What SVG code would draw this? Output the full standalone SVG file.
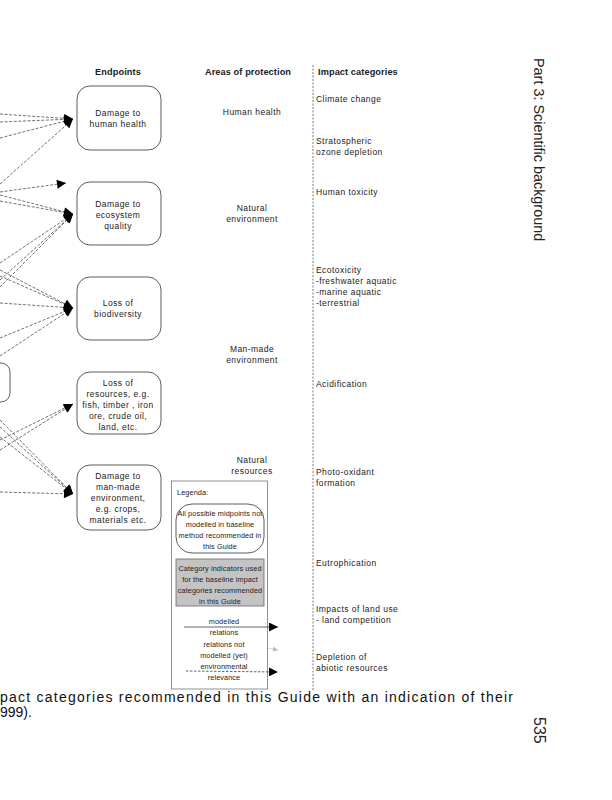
<svg xmlns="http://www.w3.org/2000/svg" width="612" height="800" viewBox="0 0 612 800">
<defs>
<marker id="ah" viewBox="0 0 10 10" refX="10" refY="5" markerWidth="10" markerHeight="9" markerUnits="userSpaceOnUse" orient="auto">
<path d="M0,0 L10,5 L0,10 z" fill="#000"/>
</marker>
<marker id="ahg" viewBox="0 0 10 10" refX="10" refY="5" markerWidth="8" markerHeight="5" markerUnits="userSpaceOnUse" orient="auto">
<path d="M0,0 L10,5 L0,10 z" fill="#bbb"/>
</marker>
</defs>
<style>
text{font-family:"Liberation Sans",Arial,sans-serif;font-size:8.5px;letter-spacing:0.45px;fill:#222}
.h{font-weight:bold;font-size:9.2px;letter-spacing:0.1px}
.c{text-anchor:middle}
.lg{font-size:7.3px;letter-spacing:0.1px}
.box{fill:#fff;stroke:#333;stroke-width:0.8}
.dl{fill:none;stroke:#333;stroke-width:0.7;stroke-dasharray:3,1.6;marker-end:url(#ah)}
.cap{font-family:"Liberation Sans",Arial,sans-serif;font-size:14px;letter-spacing:0;fill:#111}
</style>
<rect width="612" height="800" fill="#fff"/>

<g id="connectors">
<path class="dl" d="M0,114 L73,119"/>
<path class="dl" d="M0,122 L73,119"/>
<path class="dl" d="M0,138 L73,119"/>
<path class="dl" d="M0,184 L73,119"/>
<path class="dl" d="M0,192 L66,183"/>
<path class="dl" d="M0,195 L73,214"/>
<path class="dl" d="M0,201 L73,214"/>
<path class="dl" d="M0,263 L73,214"/>
<path class="dl" d="M0,280 L73,214"/>
<path class="dl" d="M0,287 L73,214"/>
<path class="dl" d="M0,270 L73,308"/>
<path class="dl" d="M0,276 L73,308"/>
<path class="dl" d="M0,303 L73,308"/>
<path class="dl" d="M0,338 L73,308"/>
<path class="dl" d="M0,356 L73,308"/>
<path class="dl" d="M0,440 L73,404"/>
<path class="dl" d="M0,450 L73,404"/>
<path class="dl" d="M0,420 L73,494"/>
<path class="dl" d="M0,427 L73,494"/>
<path class="dl" d="M0,437 L73,494"/>
<path class="dl" d="M0,492 L73,494"/>
</g>

<g id="endpoint-human-health">
<rect class="box" x="77" y="86" width="84" height="64" rx="13"/>
<text class="c" x="118" y="116">Damage to</text>
<text class="c" x="118" y="127">human health</text>
</g>
<g id="endpoint-ecosystem">
<rect class="box" x="77" y="182" width="84" height="63" rx="13"/>
<text class="c" x="118" y="207">Damage to</text>
<text class="c" x="118" y="218">ecosystem</text>
<text class="c" x="118" y="229">quality</text>
</g>
<g id="endpoint-biodiversity">
<rect class="box" x="77" y="277" width="84" height="63" rx="13"/>
<text class="c" x="118" y="306">Loss of</text>
<text class="c" x="118" y="317">biodiversity</text>
</g>
<g id="endpoint-resources">
<rect class="box" x="77" y="372" width="84" height="62" rx="13"/>
<text class="c" x="118" y="386">Loss of</text>
<text class="c" x="118" y="397">resources, e.g.</text>
<text class="c" x="118" y="408">fish,  timber , iron</text>
<text class="c" x="118" y="419">ore, crude oil,</text>
<text class="c" x="118" y="430">land, etc.</text>
</g>
<g id="endpoint-man-made">
<rect class="box" x="77" y="465" width="84" height="65" rx="13"/>
<text class="c" x="118" y="479">Damage to</text>
<text class="c" x="118" y="490">man-made</text>
<text class="c" x="118" y="501">environment,</text>
<text class="c" x="118" y="512">e.g. crops,</text>
<text class="c" x="118" y="523">materials etc.</text>
</g>
<g id="partial-node">
<rect class="box" x="-20" y="363" width="30" height="39" rx="9"/>
</g>

<g id="headers">
<text class="h c" x="118" y="75">Endpoints</text>
<text class="h c" x="248" y="75">Areas of protection</text>
<text class="h" x="318" y="75">Impact categories</text>
</g>

<g id="areas">
<text class="c" x="252" y="115">Human health</text>
<text class="c" x="252" y="211">Natural</text>
<text class="c" x="252" y="222">environment</text>
<text class="c" x="252" y="352">Man-made</text>
<text class="c" x="252" y="363">environment</text>
<text class="c" x="252" y="463">Natural</text>
<text class="c" x="252" y="474">resources</text>
</g>

<line x1="313" y1="65" x2="313" y2="690" stroke="#555" stroke-width="0.8" stroke-dasharray="2,1.5"/>

<g id="impact-categories">
<text x="316" y="102">Climate change</text>
<text x="316" y="144">Stratospheric</text>
<text x="316" y="155">ozone depletion</text>
<text x="316" y="195">Human toxicity</text>
<text x="316" y="273">Ecotoxicity</text>
<text x="316" y="284">-freshwater aquatic</text>
<text x="316" y="295">-marine aquatic</text>
<text x="316" y="306">-terrestrial</text>
<text x="316" y="387">Acidification</text>
<text x="316" y="475">Photo-oxidant</text>
<text x="316" y="486">formation</text>
<text x="316" y="566">Eutrophication</text>
<text x="316" y="612">Impacts of land use</text>
<text x="316" y="623">- land competition</text>
<text x="316" y="660">Depletion of</text>
<text x="316" y="671">abiotic resources</text>
</g>

<g id="legend">
<rect x="171.5" y="481" width="96" height="208" fill="#fff" stroke="#777" stroke-width="0.8"/>
<text class="lg" x="177" y="495">Legenda:</text>
<rect x="176" y="504" width="88" height="49" rx="16" fill="#fff" stroke="#333" stroke-width="0.8"/>
<text class="lg c" x="220" y="516">All possible midpoints not</text>
<text class="lg c" x="220" y="527">modelled in baseline</text>
<text class="lg c" x="220" y="538">method recommended in</text>
<text class="lg c" x="220" y="549">this Guide</text>
<rect x="176" y="559" width="88" height="47" fill="#c4c4c4" stroke="#666" stroke-width="0.8"/>
<text class="lg c" x="220" y="571" fill="#444">Category indicators used</text>
<text class="lg c" x="220" y="582" fill="#444">for the baseline impact</text>
<text class="lg c" x="220" y="593" fill="#444">categories recommended</text>
<text class="lg c" x="220" y="604" fill="#444">in this Guide</text>
<text class="lg c" x="224" y="624">modelled</text>
<line x1="184" y1="627" x2="278" y2="627" stroke="#222" stroke-width="0.7" marker-end="url(#ah)"/>
<text class="lg c" x="224" y="635">relations</text>
<text class="lg c" x="224" y="647">relations not</text>
<line x1="268" y1="648" x2="278" y2="650" stroke="#bbb" stroke-width="0.6" marker-end="url(#ahg)"/>
<text class="lg c" x="224" y="658">modelled  (yet)</text>
<text class="lg c" x="224" y="669">environmental</text>
<line x1="186" y1="671" x2="278" y2="672" stroke="#222" stroke-width="0.7" stroke-dasharray="2.5,1.5" marker-end="url(#ah)"/>
<text class="lg c" x="224" y="680">relevance</text>
</g>

<g id="page">
<text transform="translate(534,58) rotate(90)" style="font-size:14.4px;letter-spacing:0;fill:#222">Part 3: Scientific background</text>
<text transform="translate(534,717) rotate(90)" style="font-size:16px;letter-spacing:0;fill:#222">535</text>
<text class="cap" x="0" y="702" textLength="513" lengthAdjust="spacing">pact categories recommended in this Guide with an indication of their</text>
<text class="cap" x="0" y="717">999).</text>
</g>
</svg>
